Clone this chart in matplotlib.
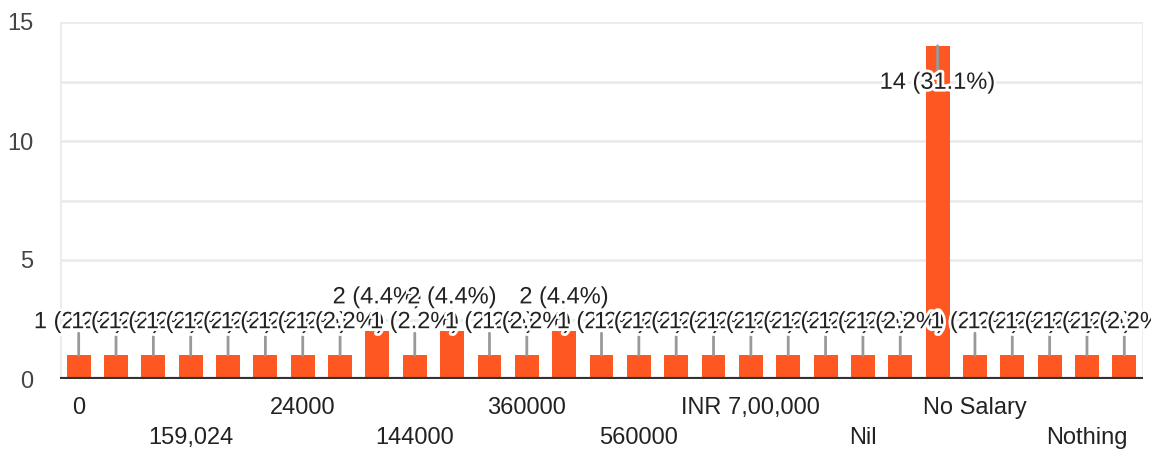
import matplotlib
matplotlib.use("Agg")
import matplotlib.pyplot as plt
import matplotlib.patheffects as pe

plt.rcParams['font.family'] = ['Liberation Sans', 'DejaVu Sans']

# responses per salary answer (only every third category name is printed)
counts = [1, 1, 1, 1, 1, 1, 1, 1, 2, 1, 2, 1, 1, 2, 1,
          1, 1, 1, 1, 1, 1, 1, 1, 14, 1, 1, 1, 1, 1]
tick_labels = {0: '0', 3: '159,024', 6: '24000', 9: '144000', 12: '360000',
               15: '560000', 18: 'INR 7,00,000', 21: 'Nil', 24: 'No Salary',
               27: 'Nothing'}
yticks = [0, 5, 10, 15]

orange = '#ff5722'
total = sum(counts)
x = list(range(len(counts)))

fig = plt.figure(figsize=(11.51, 4.5), dpi=100)
ax = fig.add_axes([60 / 1151, 1 - 379 / 450, 1083 / 1151, 357 / 450])

ax.bar(x, counts, width=0.64, color=orange, zorder=2)
ax.set_xlim(-0.5, len(counts) - 0.5)
ax.set_ylim(0, 15)

# grid
for g in [2.5, 5, 7.5, 10, 12.5, 15]:
    ax.axhline(g, color='#ebebeb', lw=2, zorder=0)
for s in ['top', 'right', 'left', 'bottom']:
    ax.spines[s].set_visible(False)
ax.axvline(-0.5, color='#ebebeb', lw=2, zorder=0)
ax.axvline(len(counts) - 0.5, color='#ebebeb', lw=2, zorder=0)
ax.axhline(0, color='#333333', lw=3, zorder=3)

ax.set_yticks(yticks)
ax.set_yticklabels([str(t) for t in yticks], fontsize=17, color='#444444')
ax.tick_params(axis='y', length=0, pad=19)
ax.set_xticks([])

# category labels, two staggered rows
for n, (i, lab) in enumerate(sorted(tick_labels.items())):
    dy = -29 if n % 2 == 0 else -59
    ax.annotate(lab, (i, 0), xycoords='data', textcoords='offset pixels',
                xytext=(0, dy), ha='center', va='center', fontsize=17,
                color='#222222', annotation_clip=False)

# value labels with leader stems
halo = [pe.withStroke(linewidth=4, foreground='white')]
for i, v in enumerate(counts):
    pct = v / total * 100
    txt = f'{v} ({pct:.1f}%)'
    if v > 10:
        off = -37
        ax.annotate('', (i, v), textcoords='offset pixels', xytext=(0, -24),
                    arrowprops=dict(arrowstyle='-', color='#999999', lw=2,
                                    shrinkA=0, shrinkB=0), zorder=4)
    else:
        off = 33 if v == 1 else 34
        ax.annotate('', (i, v), textcoords='offset pixels', xytext=(0, 22),
                    arrowprops=dict(arrowstyle='-', color='#999999', lw=2,
                                    shrinkA=0, shrinkB=0), zorder=4)
    ax.annotate(txt, (i, v), textcoords='offset pixels', xytext=(0, off),
                ha='center', va='center', fontsize=17, color='#222222',
                path_effects=halo, zorder=5, annotation_clip=False)

fig.savefig('out.png', dpi=100)
